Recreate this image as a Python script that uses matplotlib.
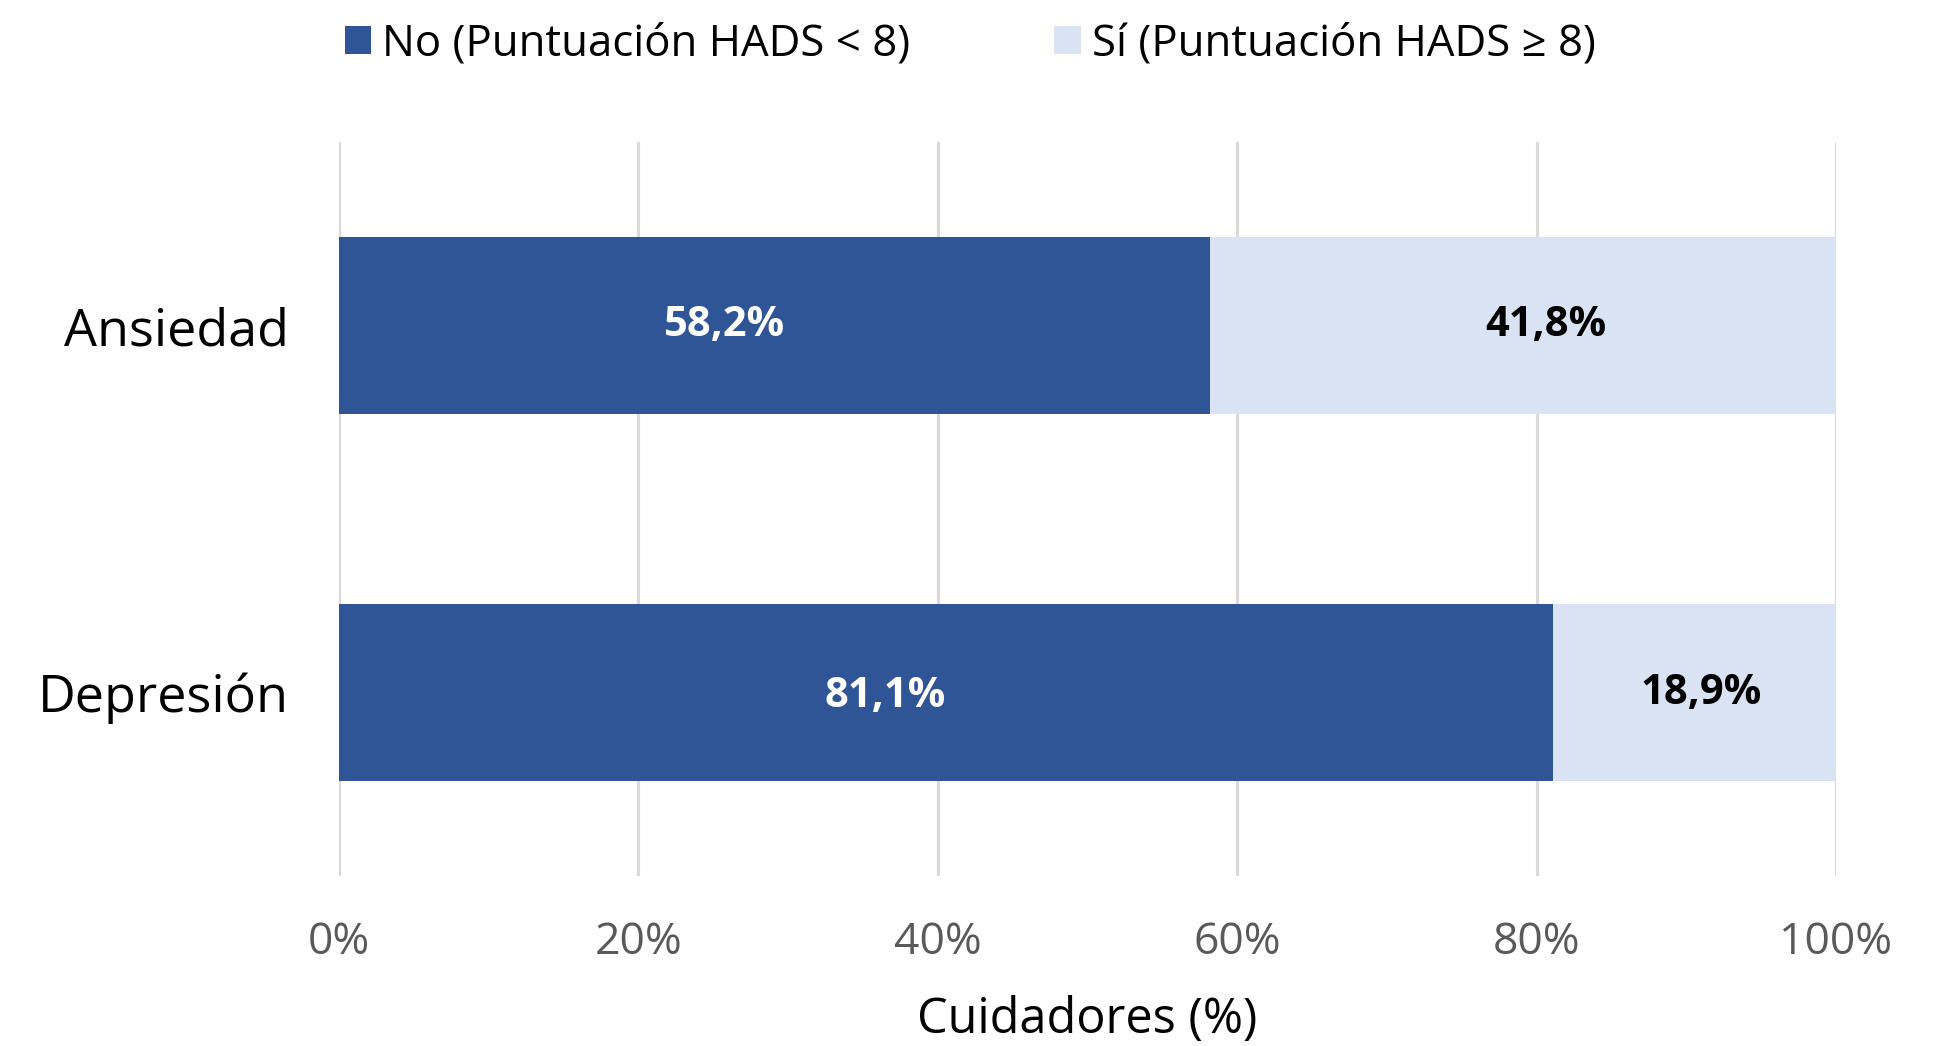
import matplotlib.pyplot as plt

plt.rcParams['font.family'] = ['Open Sans', 'DejaVu Sans']

categories = ["Ansiedad", "Depresión"]
no_vals = [58.2, 81.1]
si_vals = [41.8, 18.9]
series_names = ["No (Puntuación HADS < 8)", "Sí (Puntuación HADS ≥ 8)"]
ticks = [0, 20, 40, 60, 80, 100]

dark = "#2F5597"
light = "#DAE3F3"

fig = plt.figure(figsize=(19.4, 10.46), dpi=100)
ax = fig.add_axes([0.1747, 0.1625, 0.7717, 0.7017])

y = list(range(len(categories)))
b1 = ax.barh(y, no_vals, height=0.48, color=dark, label=series_names[0], zorder=3)
b2 = ax.barh(y, si_vals, left=no_vals, height=0.48, color=light, label=series_names[1], zorder=3)

def fmt(v):
    return f"{v:.1f}%".replace(".", ",")

# labels sit a bit off-centre in the original
no_shift = [(-36, 0), (-44, -3)]
si_shift = [(16, 0), (5, -1)]
for i in range(len(categories)):
    ax.annotate(fmt(no_vals[i]), (no_vals[i] / 2, y[i]), xytext=no_shift[i],
                textcoords='offset points', ha='center', va='center',
                color='white', fontsize=30, fontweight='bold', zorder=4)
    ax.annotate(fmt(si_vals[i]), (no_vals[i] + si_vals[i] / 2, y[i]), xytext=si_shift[i],
                textcoords='offset points', ha='center', va='center',
                color='black', fontsize=30, fontweight='bold', zorder=4)

ax.set_ylim(-0.5, 1.5)
ax.invert_yaxis()
ax.set_xlim(0, 100)
ax.set_yticks(y)
ax.set_yticklabels(categories, fontsize=37.5, color='black')
ax.set_xticks(ticks)
ax.set_xticklabels([f"{t}%" for t in ticks], fontsize=32, color='#595959')
ax.tick_params(axis='y', length=0, pad=36)
ax.tick_params(axis='x', length=0, pad=32)
ax.grid(axis='x', color='#d9d9d9', linewidth=2.2, zorder=0)
ax.set_axisbelow(True)
for s in ax.spines.values():
    s.set_visible(False)

ax.set_xlabel("Cuidadores (%)", fontsize=35, color='black', labelpad=22)

fig.legend(handles=[b1, b2], labels=series_names, loc='center',
           bbox_to_anchor=(0.5, 0.958), ncol=2, frameon=False, fontsize=31.5,
           handlelength=0.6, handleheight=0.6, handletextpad=0.25,
           columnspacing=3.3)

fig.savefig("out.png", dpi=100)
